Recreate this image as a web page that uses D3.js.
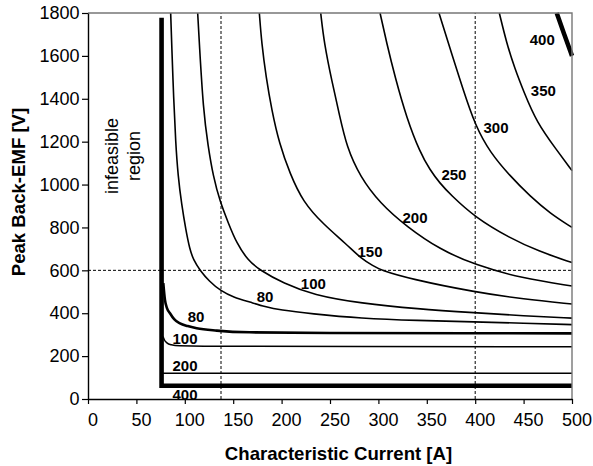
<!DOCTYPE html>
<html>
<head>
<meta charset="utf-8">
<script src="https://cdn.jsdelivr.net/npm/d3@7"></script>
<style>
  body { margin: 0; background: #fff; }
  svg { display: block; font-family: "Liberation Sans", Arial, sans-serif; }
</style>
</head>
<body>
<svg id="chart" width="593" height="466"></svg>
<script>
// - - - - - - - - - -
// data: [current A, back-EMF V]
// - - - - - - - - - -
const xTicks = [0, 50, 100, 150, 200, 250, 300, 350, 400, 450, 500];
const yTicks = [0, 200, 400, 600, 800, 1000, 1200, 1400, 1600, 1800];

// upper family (labelled 80 ... 400)
const upper80 = [[85.4,1800],[86.5,1650],[88.5,1400],[90.5,1200],[93,1040],[96.8,905],[101,790],[105,700],[109,648],[115.7,600],[125,550],[137.4,503],[150,475],[167.4,452],[183,430],[198.3,415],[230,398],[282,376],[340,366],[400,360],[450,353],[500,347]];
const upper100 = [[113.3,1800],[115,1659],[119.1,1348],[124,1180],[129.4,1037],[136.4,920],[145,820],[153.6,726],[165,648],[177.7,600],[201.8,540],[232.8,485],[282,446],[340,420],[400,402],[450,388],[500,377]];
const upper150 = [[177,1800],[179.4,1659],[184,1500],[189.8,1348],[197.5,1193],[208.7,1050],[222,920],[243,815],[267,722],[282,655],[295,620],[301.7,602],[332.6,560],[400,498],[450,466],[500,443]];
const upper200 = [[240.4,1800],[244,1659],[252,1480],[260,1320],[267.2,1177],[281,1037],[301.7,913],[329.2,804],[363.6,697],[400,625],[448,563],[500,527]];
const upper250 = [[301.7,1800],[308.6,1659],[317.1,1503],[329.2,1310],[343,1150],[353.3,1068],[363.6,1006],[374,955],[400,846],[436,750],[465,690],[500,636]];
const upper300 = [[362.6,1800],[375,1620],[387,1450],[400,1275],[415.3,1150],[436,1040],[456.6,946],[477.3,866],[500,800]];
const upper350 = [[424.9,1800],[432.5,1659],[441,1540],[450,1435],[463.5,1290],[484.2,1161],[500,1065]];
const upper400 = [[484.2,1800],[492,1700],[500,1600]];

const upperSeries = [upper80, upper100, upper150, upper200, upper250, upper300, upper350, upper400];
const upperNames = ['80', '100', '150', '200', '250', '300', '350', '400'];
const upperLabelAt = [[182.9,477],[232.8,540],[291.3,687],[337.8,846],[378,1045],[421.5,1265],[470.4,1438],[469.3,1674]];

// lower family (labelled 80, 100, 200, 400)
const lower80 = [[77.8,540],[79.5,462],[81.5,425],[84.7,400],[89,372],[95,353],[103,340],[112.3,330],[133,319],[167,311],[250,308],[500,306]];
const lower100 = [[77.5,292],[79,275],[81.5,262],[86,253],[95,248],[120,246],[500,244]];
const lower200 = [[76,120],[500,120]];
const lower400 = [[76,1778],[76,62],[500,62]];

const lowerSeries = [lower80, lower100, lower200, lower400];
const lowerNames = ['80', '100', '200', '400'];
const lowerLabelAt = [[111.6,384],[100.2,283],[100.2,158],[100.2,22]];

// dashed guide lines
const guideCurrents = [137.4, 400];
const guideVoltages = [600];

// - - - - - - - - - -
const svg = d3.select('#chart');

const x = d3.scaleLinear().domain([0, 500]).range([88, 572]);
const y = d3.scaleLinear().domain([0, 1800]).range([399, 13]);

const line = d3.line().x(d => x(d[0])).y(d => y(d[1]));

// guides
guideCurrents.forEach(c => {
    svg.append('line')
        .attr('x1', x(c)).attr('x2', x(c))
        .attr('y1', y(0)).attr('y2', y(1800))
        .attr('stroke', '#000').attr('stroke-width', 1)
        .attr('stroke-dasharray', '3,2');
});
guideVoltages.forEach(v => {
    svg.append('line')
        .attr('x1', x(0)).attr('x2', x(500))
        .attr('y1', y(v)).attr('y2', y(v))
        .attr('stroke', '#000').attr('stroke-width', 1)
        .attr('stroke-dasharray', '3,2');
});

// curves
upperSeries.forEach((pts, i) => {
    svg.append('path')
        .attr('d', line.curve(d3.curveBasis)(pts))
        .attr('fill', 'none')
        .attr('stroke', '#000')
        .attr('stroke-width', i === upperSeries.length - 1 ? 4.5 : 1.6);
});

lowerSeries.forEach((pts, i) => {
    const w = [2.6, 1.5, 1.7, 4.6][i];
    svg.append('path')
        .attr('d', line.curve(i < 2 ? d3.curveMonotoneX : d3.curveLinear)(pts))
        .attr('fill', 'none')
        .attr('stroke', '#000')
        .attr('stroke-width', w)
        .attr('stroke-linejoin', 'miter');
});

// frame (top + right)
svg.append('path')
    .attr('d', `M${x(0)},${y(1800)}H${x(500)}V${y(0)}`)
    .attr('fill', 'none')
    .attr('stroke', '#777')
    .attr('stroke-width', 1.4);

// axes
const yAxis = svg.append('g')
    .attr('transform', `translate(${x(0)},0)`)
    .call(d3.axisLeft(y).tickValues(yTicks).tickFormat(d3.format('d'))
        .tickSize(6).tickSizeOuter(0).tickPadding(2.5));

const xAxis = svg.append('g')
    .attr('transform', `translate(0,${y(0)})`)
    .call(d3.axisBottom(x).tickValues(xTicks).tickFormat(d3.format('d'))
        .tickSize(5).tickSizeOuter(0).tickPadding(9.5));

[xAxis, yAxis].forEach(g => {
    g.select('.domain').attr('stroke', '#000').attr('stroke-width', 1.4);
    g.selectAll('.tick line').attr('stroke', '#000').attr('stroke-width', 1.2);
    g.selectAll('.tick text')
        .attr('fill', '#000')
        .style('font-size', '18px')
        .style('font-family', '"Liberation Sans", Arial, sans-serif');
});
xAxis.selectAll('.tick text').attr('dx', 4.5);

// curve labels
const addLabel = (name, at) => {
    svg.append('text')
        .attr('x', x(at[0])).attr('y', y(at[1]))
        .attr('text-anchor', 'middle')
        .attr('dy', '0.36em')
        .style('font-size', '15px')
        .style('font-weight', 'bold')
        .text(name);
};
upperNames.forEach((n, i) => addLabel(n, upperLabelAt[i]));
lowerNames.forEach((n, i) => addLabel(n, lowerLabelAt[i]));

// titles
svg.append('text')
    .attr('x', 338.5).attr('y', 460)
    .attr('text-anchor', 'middle')
    .style('font-size', '18.6px')
    .style('font-weight', 'bold')
    .text('Characteristic Current [A]');

svg.append('text')
    .attr('transform', 'translate(25,192) rotate(-90)')
    .attr('text-anchor', 'middle')
    .style('font-size', '18.6px')
    .style('font-weight', 'bold')
    .text('Peak Back-EMF [V]');

// infeasible region note
svg.append('text')
    .attr('transform', 'translate(118,156) rotate(-90)')
    .attr('text-anchor', 'middle')
    .style('font-size', '18px')
    .text('infeasible');
svg.append('text')
    .attr('transform', 'translate(139.5,156) rotate(-90)')
    .attr('text-anchor', 'middle')
    .style('font-size', '18px')
    .text('region');
</script>
</body>
</html>
